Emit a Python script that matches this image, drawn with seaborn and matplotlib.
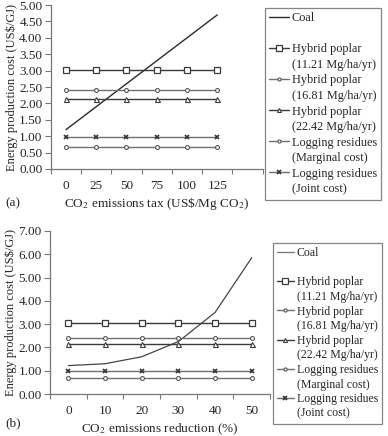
import numpy as np
import pandas as pd
import matplotlib
matplotlib.use("Agg")
import matplotlib.pyplot as plt
from matplotlib.lines import Line2D
import seaborn as sns

# Panel (a): CO2 emissions tax (US$/Mg CO2)
tax_levels = ["0", "25", "50", "75", "100", "125"]
coal_tax = [1.20, 1.90, 2.60, 3.30, 4.00, 4.70]

# Panel (b): CO2 emissions reduction (%)
reduction_levels = ["0", "10", "20", "30", "40", "50"]
coal_reduction = [1.22, 1.30, 1.60, 2.25, 3.50, 5.85]

# constant biomass costs (US$/GJ)
poplar_1121 = 3.03
poplar_1681 = 2.42
poplar_2242 = 2.13
residues_marginal = 0.68
residues_joint = 0.98

series_names = ["Hybrid poplar\n(11.21 Mg/ha/yr)", "Hybrid poplar\n(16.81 Mg/ha/yr)",
                "Hybrid poplar\n(22.42 Mg/ha/yr)", "Logging residues\n(Marginal cost)",
                "Logging residues\n(Joint cost)"]
series_values = [poplar_1121, poplar_1681, poplar_2242, residues_marginal, residues_joint]
series_styles = [
    dict(marker="s", markersize=4.6, color="#3a3a3a", mfc="white", mec="#3a3a3a", mew=0.9),
    dict(marker="o", markersize=2.8, color="#707070", mfc="white", mec="#555555", mew=0.8),
    dict(marker="^", markersize=3.6, color="#3a3a3a", mfc="white", mec="#3a3a3a", mew=0.8),
    dict(marker="o", markersize=2.8, color="#707070", mfc="white", mec="#555555", mew=0.8),
    dict(marker="x", markersize=3.4, color="#707070", mfc="white", mec="#333333", mew=1.2),
]

sns.set_style("white")
plt.rcParams["font.family"] = ["Liberation Serif", "DejaVu Serif"]
plt.rcParams["mathtext.fontset"] = "stix"

fig = plt.figure(figsize=(3.88, 4.36), dpi=100)
ax_a = fig.add_axes([0.131, 0.6124, 0.546, 0.376])
ax_b = fig.add_axes([0.129, 0.0963, 0.567, 0.374])


def draw_panel(ax, levels, coal, ymax, extra_slots, coal_style):
    pos = np.arange(len(levels))
    sns.lineplot(x=pos, y=coal, ax=ax, **coal_style)
    for name, val, st in zip(series_names, series_values, series_styles):
        sns.lineplot(x=pos, y=[val] * len(levels), ax=ax, linewidth=1.0, **st)
    ax.set_xlim(-0.5, len(levels) - 0.5 + extra_slots)
    ax.set_ylim(0, ymax)
    ax.set_yticks(np.arange(0, ymax + 0.01, 0.5 if ymax == 5 else 1.0))
    ax.yaxis.set_major_formatter(matplotlib.ticker.FormatStrFormatter("%.2f"))
    ax.set_xticks(np.arange(-0.5, len(levels) + extra_slots, 1.0))
    ax.set_xticklabels([])
    ax.set_xticks(pos, minor=True)
    ax.set_xticklabels(levels, minor=True)
    ax.tick_params(axis="x", which="minor", length=0, pad=8, labelsize=9.5)
    ax.tick_params(axis="x", which="major", length=3.5, width=0.8, color="#777777", direction="out")
    ax.tick_params(axis="y", length=4.5, width=0.8, color="#777777", direction="out", pad=1.5, labelsize=9.5)
    ax.tick_params(bottom=True, left=True)
    for s in ["top", "right"]:
        ax.spines[s].set_visible(False)
    for s in ["left", "bottom"]:
        ax.spines[s].set_color("#777777")
        ax.spines[s].set_linewidth(0.9)
    ax.set_ylabel("Energy production cost (US$/GJ)", fontsize=9, labelpad=1)


draw_panel(ax_a, tax_levels, coal_tax, 5, 1, dict(color="#2a2a2a", linewidth=1.0))
draw_panel(ax_b, reduction_levels, coal_reduction, 7, 0, dict(color="#444444", linewidth=0.9))

ax_a.set_xlabel(r"CO$_2$ emissions tax (US\$/Mg CO$_2$)", fontsize=9.5, labelpad=2)
ax_b.set_xlabel(r"CO$_2$ emissions reduction (%)", fontsize=9.5, labelpad=3)
fig.text(0.013, 0.534, "(a)", fontsize=9.5, va="center")
fig.text(0.013, 0.030, "(b)", fontsize=9.5, va="center")


def build_legend(coal_color, coal_lw, anchor, fontsize, labelspacing, handlelength):
    handles = [Line2D([], [], color=coal_color, linewidth=coal_lw), Line2D([], [], linestyle="none")]
    labels = ["Coal", " "]
    for name, st in zip(series_names, series_styles):
        first, second = name.split("\n")
        handles.append(Line2D([], [], linewidth=1.0, **st))
        labels.append(first)
        handles.append(Line2D([], [], linestyle="none"))
        labels.append(second)
    leg = fig.legend(handles, labels, loc="upper left", bbox_to_anchor=anchor,
                     bbox_transform=fig.transFigure, fontsize=fontsize, frameon=True,
                     fancybox=False, handlelength=handlelength, handletextpad=0.25,
                     labelspacing=labelspacing, borderpad=0.35, borderaxespad=0,
                     markerscale=0.8)
    leg.get_frame().set_edgecolor("#666666")
    leg.get_frame().set_linewidth(0.9)
    return leg


build_legend("#2a2a2a", 1.0, (265 / 388, 1 - 8 / 436), 8.8, 0.29, 1.6)
build_legend("#777777", 0.9, (273 / 388, 1 - 243 / 436), 8.5, 0.22, 1.4)

fig.savefig("out.png", dpi=100)
